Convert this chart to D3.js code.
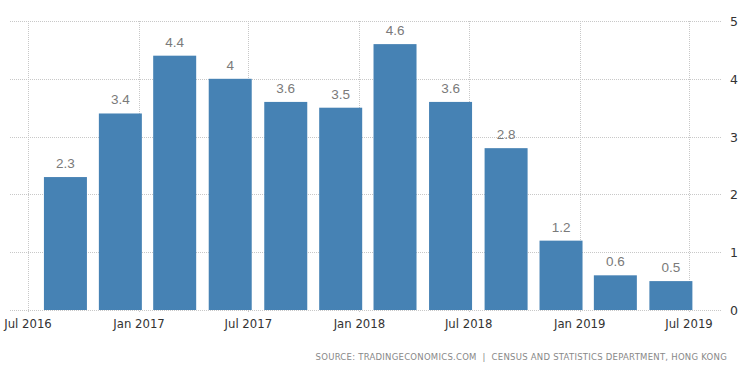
<!DOCTYPE html>
<html>
<head>
<meta charset="utf-8">
<script src="https://cdn.jsdelivr.net/npm/d3@7"></script>
<style>
  body { margin: 0; background: #fff; }
  svg { display: block; }
</style>
</head>
<body>
<div id="chart"></div>
<script>
// quarterly values, Q3 2016 .. Q2 2019
var quarters = ["2016-09", "2016-12", "2017-03", "2017-06", "2017-09", "2017-12",
                "2018-03", "2018-06", "2018-09", "2018-12", "2019-03", "2019-06"];
var values = [2.3, 3.4, 4.4, 4, 3.6, 3.5, 4.6, 3.6, 2.8, 1.2, 0.6, 0.5];
var xTicks = ["2016-07", "2017-01", "2017-07", "2018-01", "2018-07", "2019-01", "2019-07"];
var yTicks = [0, 1, 2, 3, 4, 5];
var source = "SOURCE: TRADINGECONOMICS.COM  |  CENSUS AND STATISTICS DEPARTMENT, HONG KONG";

var svgWidth = 750;
var svgHeight = 373;
var plotLeft = 10, plotRight = 722, plotTop = 21, plotBottom = 310;
var barWidth = 43;

var parse = d3.timeParse("%Y-%m");
var fmt = d3.timeFormat("%b %Y");

var svg = d3.select("#chart")
  .append("svg")
  .attr("width", svgWidth)
  .attr("height", svgHeight);

var x = d3.scaleTime()
  .domain([parse("2016-07"), parse("2019-07")])
  .range([28, 689]);

var y = d3.scaleLinear()
  .domain([0, 5])
  .range([plotBottom, plotTop]);

// horizontal grid
svg.append("g")
  .selectAll("line")
  .data(yTicks)
  .enter()
  .append("line")
  .attr("x1", plotLeft)
  .attr("x2", plotRight)
  .attr("y1", function(d) { return Math.round(y(d)) + 0.5; })
  .attr("y2", function(d) { return Math.round(y(d)) + 0.5; })
  .attr("stroke", "#c8c8c8")
  .attr("stroke-dasharray", "1,1");

// vertical grid
svg.append("g")
  .selectAll("line")
  .data(xTicks)
  .enter()
  .append("line")
  .attr("x1", function(d) { return Math.round(x(parse(d))) + 0.5; })
  .attr("x2", function(d) { return Math.round(x(parse(d))) + 0.5; })
  .attr("y1", plotTop)
  .attr("y2", plotBottom + 3)
  .attr("stroke", "#c8c8c8")
  .attr("stroke-dasharray", "1,1");

// bars
svg.append("g")
  .selectAll("rect")
  .data(values)
  .enter()
  .append("rect")
  .attr("x", function(d, i) { return x(parse(quarters[i])) - barWidth / 2; })
  .attr("y", function(d) { return y(d); })
  .attr("width", barWidth)
  .attr("height", function(d) { return y(0) - y(d); })
  .attr("fill", "#4682b4");

// value labels
svg.append("g")
  .selectAll("text")
  .data(values)
  .enter()
  .append("text")
  .attr("x", function(d, i) { return x(parse(quarters[i])); })
  .attr("y", function(d) { return y(d) - 9; })
  .attr("text-anchor", "middle")
  .attr("font-family", "Liberation Sans, Arial, sans-serif")
  .attr("font-size", 13.5)
  .attr("fill", "#7a7a7a")
  .text(function(d) { return d; });

// x axis labels
svg.append("g")
  .selectAll("text")
  .data(xTicks)
  .enter()
  .append("text")
  .attr("x", function(d) { return x(parse(d)); })
  .attr("y", 328)
  .attr("text-anchor", "middle")
  .attr("font-family", "DejaVu Sans, Verdana, sans-serif")
  .attr("font-size", 11.7)
  .attr("fill", "#333")
  .text(function(d) { return fmt(parse(d)); });

// y axis labels (right)
svg.append("g")
  .selectAll("text")
  .data(yTicks)
  .enter()
  .append("text")
  .attr("x", 730)
  .attr("y", function(d) { return y(d) + 5; })
  .attr("font-family", "DejaVu Sans, Verdana, sans-serif")
  .attr("font-size", 12.5)
  .attr("fill", "#333")
  .text(function(d) { return d; });

// source
svg.append("text")
  .attr("x", 727)
  .attr("y", 360)
  .attr("text-anchor", "end")
  .attr("font-family", "DejaVu Sans, Verdana, sans-serif")
  .attr("font-size", 8.5)
  .attr("fill", "#888")
  .attr("letter-spacing", 0.25)
  .style("white-space", "pre")
  .text(source);
</script>
</body>
</html>
